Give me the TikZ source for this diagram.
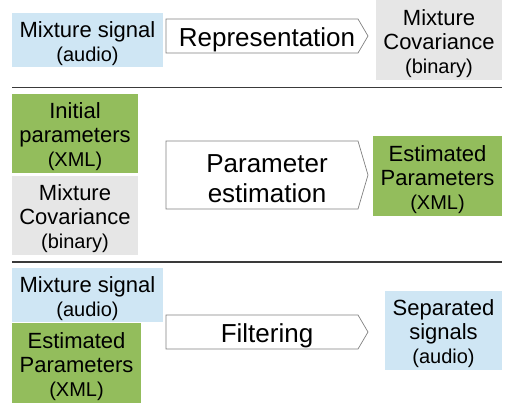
\documentclass[tikz,border=0pt]{standalone}
\usepackage{fontspec}
\setmainfont{Liberation Sans}
\definecolor{lblue}{HTML}{CFE6F4}
\definecolor{lgreen}{HTML}{93BD5C}
\definecolor{lgray}{HTML}{E6E6E6}
\definecolor{sepline}{HTML}{3A3A3A}
\definecolor{arrline}{HTML}{808080}
\newcommand{\boxfont}{\fontsize{22}{24}\selectfont}
\newcommand{\parenfont}{\fontsize{20}{24}\selectfont}
\newcommand{\arrfont}{\fontsize{26}{30}\selectfont}
\begin{document}
\begin{tikzpicture}[x=1pt,y={(0pt,-1pt)},
  databox/.style={inner sep=0pt},
  blueb/.style={databox, fill=lblue},
  greenb/.style={databox, fill=lgreen},
  grayb/.style={databox, fill=lgray},
  boxtext/.style={inner sep=0pt, align=center, font=\boxfont, text=black, yshift=-3.5pt},
  arrtext/.style={inner sep=0pt, align=center, font=\arrfont, text=black, yshift=-3.5pt},
  arrshape/.style={draw=arrline, line width=0.7pt, fill=white, line join=miter},
  rule/.style={draw=sepline, line width=1.5pt}]
\useasboundingbox (0,0) rectangle (505,405);
% Row 1
\node[blueb, minimum width=151pt, minimum height=54pt] (mix1) at (87.5,40) {};
\node[boxtext] (mix1t) at (mix1.center) {Mixture signal\\\parenfont(audio)};
\draw[arrshape] (166,19) -- (358,19) -- (368,36) -- (358,53) -- (166,53) -- cycle;
\node[arrtext] (rep) at (267,36) {Representation};
\node[grayb, minimum width=126pt, minimum height=80pt] (cov1) at (439,40) {};
\node[boxtext] (cov1t) at (cov1.center) {Mixture\\Covariance\\\parenfont(binary)};
\coordinate (l1a) at (12,87.5);
\coordinate (l1b) at (502,87.5);
\draw[rule] (l1a) -- (l1b);
% Row 2
\node[greenb, minimum width=126pt, minimum height=79pt] (init) at (75,133.5) {};
\node[boxtext] (initt) at (init.center) {Initial\\parameters\\\parenfont(XML)};
\node[grayb, minimum width=126pt, minimum height=79pt] (cov2) at (75,215.5) {};
\node[boxtext] (cov2t) at (cov2.center) {Mixture\\Covariance\\\parenfont(binary)};
\draw[arrshape] (166,141) -- (358,141) -- (368,175) -- (358,209) -- (166,209) -- cycle;
\node[arrtext] (est) at (267,175) {Parameter\\estimation};
\node[greenb, minimum width=129pt, minimum height=80pt] (est1) at (437.5,176) {};
\node[boxtext] (est1t) at (est1.center) {Estimated\\Parameters\\\parenfont(XML)};
\coordinate (l2a) at (12,262);
\coordinate (l2b) at (502,262);
\draw[rule] (l2a) -- (l2b);
% Row 3
\node[blueb, minimum width=151pt, minimum height=54pt] (mix2) at (87.5,295) {};
\node[boxtext] (mix2t) at (mix2.center) {Mixture signal\\\parenfont(audio)};
\node[greenb, minimum width=129pt, minimum height=80pt] (est2) at (76.5,363) {};
\node[boxtext] (est2t) at (est2.center) {Estimated\\Parameters\\\parenfont(XML)};
\draw[arrshape] (166,315) -- (358,315) -- (368,332) -- (358,349) -- (166,349) -- cycle;
\node[arrtext] (filt) at (267,332) {Filtering};
\node[blueb, minimum width=117pt, minimum height=79pt] (sep) at (443.5,330.5) {};
\node[boxtext] (sept) at (sep.center) {Separated\\signals\\\parenfont(audio)};
\end{tikzpicture}
\end{document}
